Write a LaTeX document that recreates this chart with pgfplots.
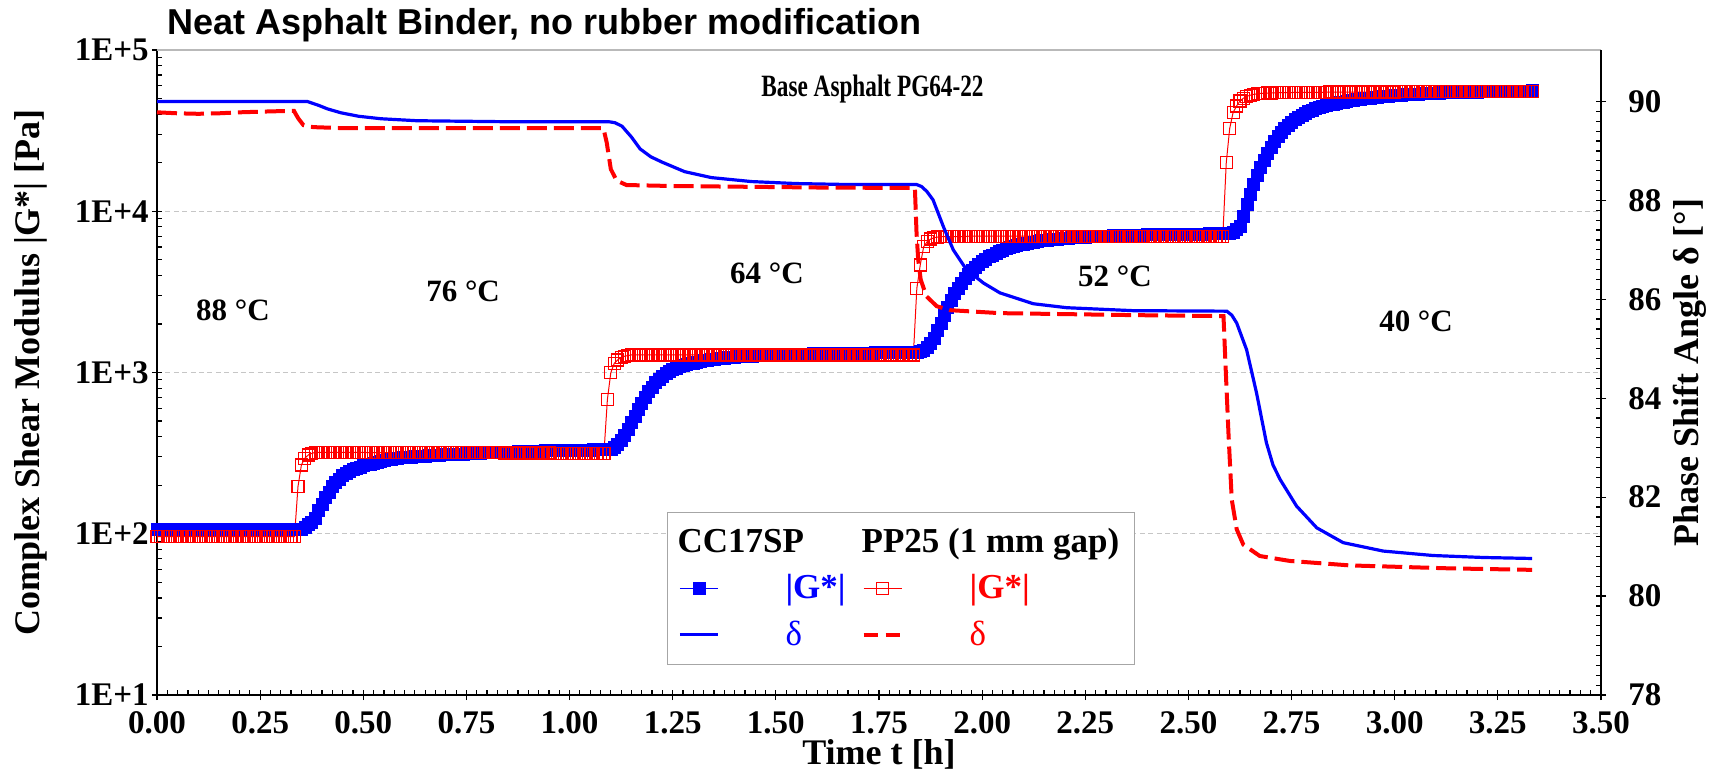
\documentclass[border=0pt]{standalone}
\usepackage{pgfplots}
\usepackage{pgfplotstable}
\pgfplotsset{compat=1.18}
\usepackage{fontspec}
\setmainfont{Liberation Serif}
\newfontfamily\titlefont{Liberation Sans}

\newcommand\tickfont{\fontsize{16.5pt}{16.5pt}\selectfont\bfseries}
\newcommand\labfont{\fontsize{18pt}{18pt}\selectfont\bfseries}
\newcommand\tempfont{\fontsize{15.5pt}{15.5pt}\selectfont\bfseries}

% |G*| (Pa) of both geometries, sampled every 30 s
\pgfplotstableread{
t cc pp
0 106 96
0.0083 106 96
0.0167 106 96
0.025 106 96
0.0333 106 96
0.0417 106 96
0.05 106 96
0.0583 106 96
0.0667 106 96
0.075 106 96
0.0833 106 96
0.0917 106 96
0.1 106 96
0.1083 106 96
0.1167 106 96
0.125 106 96
0.1333 106 96
0.1417 106 96
0.15 106 96
0.1583 106 96
0.1667 106 96
0.175 106 96
0.1833 106 96
0.1917 106 96
0.2 106 96
0.2083 106 96
0.2167 106 96
0.225 106 96
0.2333 106 96
0.2417 106 96
0.25 106 96
0.2583 106 96
0.2667 106 96
0.275 106 96
0.2833 106 96
0.2917 106 96
0.3 106 96
0.3083 106 96
0.3167 106 96
0.325 106 96
0.3333 106 96
0.3417 106 196
0.35 107 267
0.3583 110 294
0.3667 114 308
0.375 118 315
0.3833 124 320
0.3917 139 320
0.4 153 320
0.4083 168 320
0.4167 182 320
0.425 196 320
0.4333 208 320
0.4417 219 320
0.45 229 320
0.4583 238 320
0.4667 245 320
0.475 251 320
0.4833 256 320
0.4917 260 320
0.5 264 320
0.5083 268 319
0.5167 271 319
0.525 275 319
0.5333 278 319
0.5417 282 319
0.55 285 319
0.5583 288 319
0.5667 290 319
0.575 292 319
0.5833 294 318
0.5917 296 318
0.6 297 318
0.6083 299 318
0.6167 300 318
0.625 301 318
0.6333 302 318
0.6417 303 318
0.65 304 318
0.6583 305 318
0.6667 306 318
0.675 307 318
0.6833 308 318
0.6917 309 318
0.7 310 318
0.7083 310 318
0.7167 311 318
0.725 312 318
0.7333 313 318
0.7417 313 318
0.75 314 318
0.7583 315 318
0.7667 315 318
0.775 316 318
0.7833 317 318
0.7917 318 318
0.8 318 318
0.8083 319 318
0.8167 319 318
0.825 320 318
0.8333 320 318
0.8417 321 317
0.85 321 317
0.8583 322 317
0.8667 322 317
0.875 323 317
0.8833 323 317
0.8917 324 317
0.9 324 317
0.9083 325 317
0.9167 325 317
0.925 326 317
0.9333 326 317
0.9417 327 317
0.95 327 317
0.9583 328 316
0.9667 328 316
0.975 328 316
0.9833 329 316
0.9917 329 316
1 329 316
1.0083 330 316
1.0167 330 316
1.025 330 316
1.0333 331 316
1.0417 331 316
1.05 331 316
1.0583 332 316
1.0667 332 316
1.075 332 316
1.0833 333 316
1.0917 333 682
1.1 336 998
1.1083 345 1140
1.1167 360 1197
1.125 382 1240
1.1333 410 1262
1.1417 445 1275
1.15 488 1285
1.1583 538 1285
1.1667 592 1285
1.175 648 1285
1.1833 705 1285
1.1917 762 1285
1.2 815 1285
1.2083 866 1285
1.2167 912 1285
1.225 952 1285
1.2333 987 1285
1.2417 1017 1285
1.25 1043 1285
1.2583 1066 1285
1.2667 1087 1285
1.275 1105 1285
1.2833 1121 1285
1.2917 1135 1285
1.3 1148 1285
1.3083 1160 1285
1.3167 1172 1285
1.325 1183 1285
1.3333 1193 1285
1.3417 1202 1285
1.35 1210 1285
1.3583 1218 1285
1.3667 1225 1285
1.375 1232 1285
1.3833 1238 1285
1.3917 1243 1285
1.4 1248 1285
1.4083 1253 1285
1.4167 1257 1285
1.425 1261 1285
1.4333 1264 1285
1.4417 1267 1285
1.45 1270 1285
1.4583 1273 1285
1.4667 1276 1285
1.475 1279 1285
1.4833 1282 1285
1.4917 1284 1285
1.5 1286 1285
1.5083 1288 1285
1.5167 1290 1285
1.525 1292 1285
1.5333 1294 1285
1.5417 1296 1285
1.55 1298 1285
1.5583 1300 1285
1.5667 1302 1285
1.575 1304 1285
1.5833 1306 1285
1.5917 1307 1285
1.6 1308 1285
1.6083 1309 1285
1.6167 1311 1285
1.625 1312 1285
1.6333 1313 1285
1.6417 1314 1285
1.65 1315 1285
1.6583 1316 1285
1.6667 1317 1285
1.675 1318 1285
1.6833 1319 1285
1.6917 1320 1285
1.7 1321 1285
1.7083 1322 1285
1.7167 1323 1285
1.725 1324 1285
1.7333 1325 1285
1.7417 1326 1285
1.75 1326 1285
1.7583 1327 1285
1.7667 1327 1285
1.775 1328 1285
1.7833 1328 1285
1.7917 1329 1285
1.8 1329 1285
1.8083 1330 1285
1.8167 1330 1285
1.825 1331 1285
1.8333 1331 1285
1.8417 1333 3327
1.85 1345 4645
1.8583 1380 6030
1.8667 1440 6470
1.875 1520 6720
1.8833 1640 6850
1.8917 1820 6920
1.9 2030 6960
1.9083 2270 6960
1.9167 2530 6960
1.925 2800 6960
1.9333 3080 6960
1.9417 3340 6960
1.95 3590 6960
1.9583 3830 6960
1.9667 4060 7000
1.975 4280 7000
1.9833 4490 7000
1.9917 4690 7000
2 4880 7000
2.0083 5050 7000
2.0167 5220 7000
2.025 5370 7000
2.0333 5510 7000
2.0417 5640 7000
2.05 5760 7000
2.0583 5860 7000
2.0667 5960 7000
2.075 6050 7000
2.0833 6130 7000
2.0917 6200 7000
2.1 6270 7000
2.1083 6340 7000
2.1167 6400 7000
2.125 6460 7000
2.1333 6510 7000
2.1417 6560 7000
2.15 6600 7000
2.1583 6640 7000
2.1667 6680 7000
2.175 6710 7000
2.1833 6740 7000
2.1917 6770 7000
2.2 6800 7000
2.2083 6830 7000
2.2167 6855 7000
2.225 6880 7000
2.2333 6900 7000
2.2417 6920 7000
2.25 6940 7000
2.2583 6955 7000
2.2667 6970 7000
2.275 6985 7000
2.2833 7000 7000
2.2917 7015 7000
2.3 7030 7000
2.3083 7040 7000
2.3167 7050 7000
2.325 7060 7000
2.3333 7070 7000
2.3417 7080 7000
2.35 7090 7000
2.3583 7100 7000
2.3667 7110 7000
2.375 7120 7000
2.3833 7130 7000
2.3917 7140 7000
2.4 7150 7000
2.4083 7160 7000
2.4167 7170 7000
2.425 7175 7000
2.4333 7180 7000
2.4417 7185 7000
2.45 7190 7000
2.4583 7195 7000
2.4667 7200 7000
2.475 7205 7000
2.4833 7210 7000
2.4917 7215 7000
2.5 7220 7000
2.5083 7225 7000
2.5167 7230 7000
2.525 7235 7000
2.5333 7240 7000
2.5417 7245 7000
2.55 7250 7000
2.5583 7255 7000
2.5667 7260 7000
2.575 7265 7000
2.5833 7270 7000
2.5917 7280 20000
2.6 7330 32600
2.6083 7450 41000
2.6167 7700 45000
2.625 8100 48300
2.6333 9300 50300
2.6417 11100 51600
2.65 12800 52500
2.6583 14600 53100
2.6667 16600 53500
2.675 18700 53800
2.6833 20800 54000
2.6917 22900 54100
2.7 25000 54200
2.7083 27000 54300
2.7167 29000 54400
2.725 30900 54400
2.7333 32600 54500
2.7417 34200 54500
2.75 35700 54500
2.7583 37100 54600
2.7667 38300 54600
2.775 39400 54600
2.7833 40500 54600
2.7917 41500 54700
2.8 42400 54700
2.8083 43200 54700
2.8167 43900 54700
2.825 44600 54700
2.8333 45200 54800
2.8417 45800 54900
2.85 46300 54900
2.8583 46800 54900
2.8667 47300 54900
2.875 47700 54900
2.8833 48100 54900
2.8917 48500 54900
2.9 48900 54900
2.9083 49250 54900
2.9167 49600 54900
2.925 49900 54900
2.9333 50200 54900
2.9417 50500 54900
2.95 50800 54900
2.9583 51100 54900
2.9667 51400 54900
2.975 51650 54900
2.9833 51900 54900
2.9917 52100 54900
3 52300 54900
3.0083 52500 55000
3.0167 52700 55000
3.025 52850 55000
3.0333 53000 55000
3.0417 53200 55000
3.05 53350 55000
3.0583 53500 55000
3.0667 53650 55000
3.075 53800 55000
3.0833 53900 55000
3.0917 54000 55000
3.1 54100 55000
3.1083 54200 55000
3.1167 54300 55000
3.125 54400 55000
3.1333 54480 55000
3.1417 54560 55000
3.15 54640 55000
3.1583 54720 55000
3.1667 54800 55000
3.175 54860 55100
3.1833 54920 55100
3.1917 54980 55100
3.2 55040 55100
3.2083 55100 55100
3.2167 55160 55100
3.225 55220 55100
3.2333 55280 55100
3.2417 55340 55100
3.25 55400 55100
3.2583 55450 55100
3.2667 55500 55100
3.275 55550 55100
3.2833 55600 55100
3.2917 55650 55100
3.3 55700 55100
3.3083 55750 55100
3.3167 55800 55100
3.325 55850 55100
3.3333 55900 55100
}\Gdata

% phase angle, CC17SP
\pgfplotstableread{
t d
0 90.00
0.364 90.00
0.378 89.96
0.392 89.92
0.413 89.85
0.446 89.77
0.489 89.70
0.543 89.65
0.630 89.61
0.846 89.59
1.095 89.59
1.110 89.57
1.127 89.50
1.150 89.28
1.171 89.04
1.197 88.88
1.225 88.77
1.279 88.58
1.344 88.46
1.441 88.38
1.549 88.34
1.677 88.32
1.841 88.32
1.853 88.28
1.866 88.18
1.881 88.01
1.906 87.47
1.930 87.00
1.962 86.60
2.003 86.33
2.043 86.13
2.124 85.91
2.205 85.83
2.366 85.77
2.593 85.76
2.605 85.68
2.617 85.52
2.641 84.98
2.665 84.11
2.689 83.10
2.705 82.65
2.722 82.36
2.762 81.82
2.811 81.38
2.875 81.08
2.972 80.91
3.093 80.82
3.215 80.78
3.333 80.76
}\Dcc

% phase angle, PP25
\pgfplotstableread{
t d
0 89.78
0.05 89.76
0.1 89.75
0.15 89.76
0.2 89.78
0.28 89.80
0.332 89.81
0.338 89.72
0.343 89.65
0.355 89.52
0.368 89.49
0.381 89.48
0.45 89.46
1.082 89.46
1.090 89.17
1.100 88.63
1.114 88.40
1.138 88.31
1.25 88.29
1.6 88.26
1.837 88.25
1.841 87.34
1.845 86.80
1.851 86.40
1.865 86.06
1.890 85.86
1.922 85.78
2.043 85.72
2.366 85.68
2.585 85.66
2.590 84.65
2.597 83.30
2.605 81.95
2.617 81.35
2.633 81.04
2.673 80.81
2.746 80.71
2.891 80.62
3.134 80.56
3.333 80.53
}\Dpp

\pgfplotsset{
  twin/.style={
    at={(0pt,0pt)}, anchor=south west,
    scale only axis, width=722pt, height=322.5pt,
    xmin=0, xmax=3.5, clip=false,
    tick align=inside, major tick length=5pt, minor tick length=2.5pt,
    tick style={black, line width=0.6pt},
    tick label style={font=\tickfont, inner sep=0pt},
    /pgf/number format/assume math mode=true,
  },
}

\begin{document}
\begin{tikzpicture}
% modulus on the left (log) axis
\begin{axis}[twin,
  ymode=log, ymin=10, ymax=100000,
  axis x line*=bottom, axis y line*=left,
  x axis line style={-, line width=1pt}, y axis line style={-, line width=1pt},
  xtick={0,0.25,...,3.5}, minor x tick num=9,
  xticklabel style={yshift=-8pt, /pgf/number format/fixed, /pgf/number format/fixed zerofill, /pgf/number format/precision=2},
  ytick={10,100,1000,10000,100000},
  yticklabels={1E+1,1E+2,1E+3,1E+4,1E+5},
  yticklabel style={xshift=-4pt},
  major x tick style={yshift=-2.5pt},
  major y tick style={xshift=-2.5pt},
  ymajorgrids, major grid style={gray!45, line width=0.6pt, dash pattern=on 2.5pt off 1.7pt},
  xlabel={Time t [h]},
  ylabel={Complex Shear Modulus |G*| [Pa]},
  every axis x label/.style={at={(axis description cs:0.5,-0.0915)}, anchor=center, inner sep=0pt, font=\labfont},
  every axis y label/.style={at={(axis description cs:-0.0873,0.5)}, rotate=90, anchor=center, inner sep=0pt, font=\labfont},
]
\draw[gray!55, line width=1pt] (rel axis cs:0,1) -- (rel axis cs:1,1);
\addplot[blue, line width=0.5pt, mark=square*, mark size=3pt,
  mark options={fill=blue, draw=blue, line width=0.3pt}] table[x=t, y=cc] {\Gdata};
\addplot[red, line width=0.5pt, mark=square, mark size=3pt,
  mark options={draw=red, line width=0.6pt}] table[x=t, y=pp] {\Gdata};

\node[font=\tempfont] at (axis description cs:0.0526,0.597) {88 °C};
\node[font=\tempfont] at (axis description cs:0.212,0.626) {76 °C};
\node[font=\tempfont] at (axis description cs:0.4224,0.654) {64 °C};
\node[font=\tempfont] at (axis description cs:0.6634,0.6496) {52 °C};
\node[font=\tempfont] at (axis description cs:0.8719,0.580) {40 °C};
\node[font=\tempfont, anchor=west, inner sep=0pt] at (axis description cs:0.4183,0.9395)
  {\scalebox{0.75}[1]{Base Asphalt PG64-22}};
\node[font=\titlefont\fontsize{18pt}{18pt}\selectfont\bfseries, anchor=west, inner sep=0pt]
  at (axis description cs:0.0069,1.0388) {Neat Asphalt Binder, no rubber modification};
\end{axis}

% phase angle on the right axis
\begin{axis}[twin,
  ymin=78, ymax=91.04,
  axis x line=none, axis y line*=right,
  y axis line style={-, line width=1pt},
  ytick={78,80,...,90}, minor y tick num=9,
  major y tick style={xshift=2.5pt},
  yticklabel style={anchor=west, xshift=13.5pt},
  ylabel={Phase Shift Angle δ [°]},
  every axis y label/.style={at={(axis description cs:1.0616,0.5)}, rotate=90, anchor=center, inner sep=0pt, font=\labfont},
  legend columns=2,
  legend cell align=left,
  legend image code/.code={\draw[mark repeat=2, mark phase=2, #1] plot coordinates {(0pt,0pt) (9.5pt,0pt) (19pt,0pt)};},
  legend style={at={(axis description cs:0.353,0.284)}, anchor=north west,
    draw=gray!70, line width=0.6pt, fill=white,
    font=\fontsize{17.5pt}{17.5pt}\selectfont,
    inner xsep=5.5pt, inner ysep=6pt, row sep=5.5pt,
    /tikz/every odd column/.append style={column sep=31pt},
    /tikz/every even column/.append style={column sep=6pt}},
]
\addplot[blue, line width=1.6pt, forget plot] table[x=t, y=d] {\Dcc};
\addplot[red, line width=2pt, dash pattern=on 10pt off 3.5pt, forget plot] table[x=t, y=d] {\Dpp};

\addlegendimage{empty legend}
\addlegendentry{\hspace*{-54pt}\bfseries CC17SP}
\addlegendimage{empty legend}
\addlegendentry{\hspace*{-54pt}\bfseries PP25 (1 mm gap)}
\addlegendimage{blue, line width=0.5pt, mark=square*, mark size=3pt, mark options={fill=blue, line width=0.3pt}}
\addlegendentry{\textcolor{blue}{\bfseries |G*|}}
\addlegendimage{red, line width=0.5pt, mark=square, mark size=3pt, mark options={line width=0.6pt}}
\addlegendentry{\textcolor{red}{\bfseries |G*|}}
\addlegendimage{blue, line width=1.6pt}
\addlegendentry{\textcolor{blue}{δ}}
\addlegendimage{red, line width=2pt, dash pattern=on 7pt off 4pt}
\addlegendentry{\textcolor{red}{δ}}
\end{axis}

\path (-78.5pt,-38.5pt) rectangle (781pt,347.5pt);
\end{tikzpicture}
\end{document}
